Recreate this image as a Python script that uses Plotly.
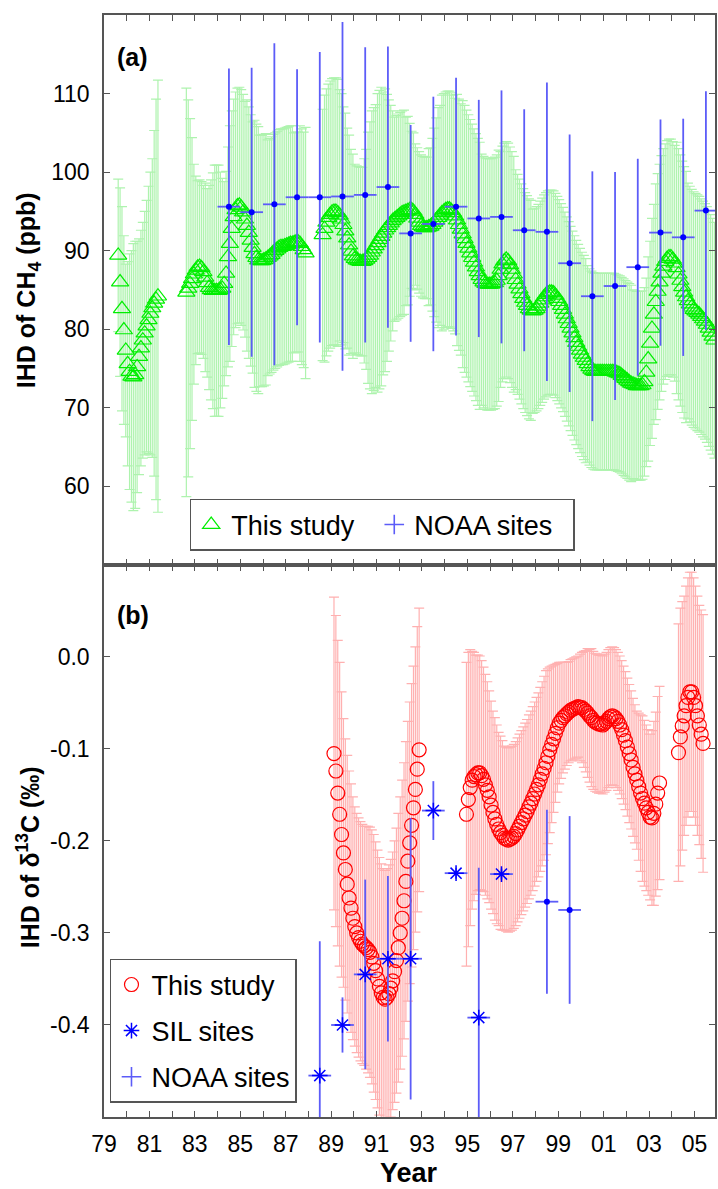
import numpy as np
import plotly.graph_objects as go

# ---------------- Panel (a): IHD of CH4 ----------------
# "This study" (monthly values, three segments)
ch4_seg1_start = 1979.625
ch4_seg1 = [89.4, 86.0, 82.6, 79.9, 77.3, 75.6, 74.6, 74.0, 73.9, 74.2, 75.2, 76.5,
            77.6, 78.6, 79.5, 80.4, 81.2, 82.0, 82.7, 83.3, 83.8, 84.2]
ch4_seg1_err = [9.7, 12.0, 13.0, 12.0, 11.0, 13.0, 15.0, 16.0, 17.0, 17.0, 16.0, 15.0,
                15.0, 15.0, 15.5, 16.0, 17.0, 18.0, 19.0, 22.0, 25.5, 27.5]

ch4_seg2_start = 1982.625
ch4_seg2 = [84.7, 85.2, 85.8, 86.4, 87.0, 87.5, 87.9, 88.0, 87.8, 87.3,
            86.6, 85.9, 85.3, 85.0, 84.9, 84.9, 84.9, 84.9, 85.0, 85.2,
            85.8, 87.1, 89.2, 90.9, 92.8, 94.3, 95.2, 95.7, 95.8, 95.5,
            94.9, 94.0, 93.2, 92.3, 91.3, 90.4, 89.6, 89.1, 88.8, 88.7,
            88.7, 88.8, 88.9, 89.1, 89.3, 89.5, 89.8, 90.0, 90.2, 90.4,
            90.5, 90.5, 90.6, 90.7, 90.8, 90.9, 90.9, 91.0, 91.1, 91.1,
            90.9, 90.5, 90.1, 89.7]
ch4_seg2_err = [26, 24, 21, 18, 14, 12, 11, 11, 11, 11,
                12, 12, 13, 14, 15, 16, 16, 16, 15, 14,
                13, 13, 14, 15, 15, 15, 15, 15, 15, 15,
                15, 15, 16, 16, 16, 16, 17, 17, 17, 16,
                16, 16, 16, 15, 15, 15, 15, 15, 15, 15,
                15, 15, 15, 15, 15, 15, 15, 14, 14, 14,
                15, 15, 15, 16]

ch4_seg3_start = 1988.625
ch4_seg3 = [92.0, 92.8, 93.6, 94.2, 94.6,
            94.9, 95.0, 95.0, 94.8, 94.5, 94.0, 93.3, 92.5, 91.6, 90.7, 89.9, 89.3,
            89.0, 88.8, 88.7, 88.6, 88.6, 88.7, 88.9, 89.1, 89.4, 89.8, 90.2, 90.6,
            91.0, 91.4, 91.8, 92.2, 92.6, 92.9, 93.2, 93.5, 93.8, 94.0, 94.2, 94.4,
            94.6, 94.8, 94.9, 95.0, 95.1, 95.2, 95.2, 95.0, 94.6, 94.1, 93.6, 93.2,
            93.0, 92.9, 92.9, 93.0, 93.1, 93.3, 93.6, 93.9, 94.2, 94.5, 94.8, 95.0,
            95.2, 95.3, 95.3, 95.1, 94.8, 94.4, 93.9, 93.3, 92.7, 92.1, 91.5, 90.9,
            90.3, 89.7, 89.1, 88.5, 87.9, 87.3, 86.8, 86.3, 86.0, 85.8, 85.7, 85.7,
            85.7, 85.8, 85.9, 86.2, 86.8, 87.6, 88.3, 88.7, 88.9, 88.7, 88.2, 87.6,
            87.0, 86.3, 85.7, 85.1, 84.5, 83.9, 83.4, 83.0, 82.6, 82.4, 82.3, 82.4,
            82.6, 82.9, 83.3, 83.7, 84.1, 84.4, 84.6, 84.7, 84.7, 84.6, 84.3, 83.9,
            83.5, 83.0, 82.5, 81.9, 81.3, 80.7, 80.1, 79.5, 78.9, 78.3, 77.8, 77.3,
            76.8, 76.4, 76.0, 75.6, 75.2, 74.9, 74.7, 74.6, 74.6, 74.6, 74.6, 74.6,
            74.6, 74.6, 74.6, 74.6, 74.6, 74.6, 74.5, 74.4, 74.3, 74.1, 73.9, 73.7,
            73.5, 73.3, 73.1, 73.0, 72.9, 72.8, 72.8, 72.8, 72.9, 73.3, 74.5, 76.2,
            78.2, 80.1, 81.9, 83.5, 84.8, 86.0, 87.1, 88.0, 88.6, 89.0, 89.2, 89.2,
            88.9, 88.4, 87.8, 87.0, 86.2, 85.4, 84.7, 84.1, 83.6, 83.2, 82.8, 82.5,
            82.3, 82.1, 81.9, 81.6, 81.3, 81.0, 80.6, 80.1, 79.6, 79.1, 78.6]
ch4_seg3_err = [16, 17, 17, 17, 17,
                17, 17, 17, 17, 16, 16, 15, 15, 14, 14, 13, 13,
                12, 12, 12, 12, 12, 13, 14, 16, 17, 18, 18, 18,
                19, 19, 19, 18, 18, 17, 16, 15, 14, 13, 13, 13,
                13, 13, 13, 12, 12, 11, 10, 10, 9, 9, 9, 9,
                9, 9, 9, 10, 10, 11, 12, 13, 14, 14, 15, 15,
                15, 15, 15, 15, 15, 15, 16, 16, 16, 17, 17, 17,
                17, 17, 17, 17, 17, 17, 17, 16, 16, 16, 16, 16,
                16, 16, 16, 16, 16, 15, 15, 15, 15, 15, 15, 15,
                15, 14, 14, 14, 14, 14, 14, 14, 14, 14, 13, 13,
                13, 13, 13, 13, 13, 13, 13, 13, 13, 13, 13, 13,
                13, 13, 13, 13, 13, 13, 13, 13, 13, 13, 13, 13,
                13, 13, 13, 12.5, 12.5, 12.5, 12.5, 12.5, 12.5, 12.5, 12.5, 12.5,
                12.5, 12.5, 12.5, 12.5, 12.5, 12.5, 12.5, 12.5, 12.5, 12.5, 12.5, 12.5,
                12.5, 12.5, 12.5, 12, 12, 12, 12, 12, 12, 12, 12, 13,
                13, 14, 14, 15, 15, 15, 15, 15, 15, 15, 15, 15,
                15, 15, 16, 16, 16, 16, 16, 16, 15, 15, 15, 15,
                15, 15, 15, 15, 15, 15, 15, 15, 15, 15, 15]

# NOAA sites (annual)
noaa_ch4_years = [1984.5, 1985.5, 1986.5, 1987.5, 1988.5, 1989.5, 1990.5, 1991.5,
                  1992.5, 1993.5, 1994.5, 1995.5, 1996.5, 1997.5, 1998.5, 1999.5,
                  2000.5, 2001.5, 2002.5, 2003.5, 2004.5, 2005.5]
noaa_ch4 = [95.6, 94.9, 95.9, 96.8, 96.8, 96.9, 97.1, 98.1, 92.2, 93.4, 95.6,
            94.1, 94.3, 92.6, 92.4, 88.4, 84.2, 85.5, 87.9, 92.3, 91.7, 95.1]
noaa_ch4_err = [17.6, 18.4, 20.5, 16.3, 18.5, 22.2, 18.8, 17.9, 13.8, 16.2, 16.4,
                15.1, 16.1, 15.4, 19.0, 16.4, 15.9, 14.5, 13.8, 14.4, 15.1, 15.2]

# ---------------- Panel (b): IHD of d13C ----------------
d13_segA_start = 1989.125
d13_segA = [-0.105, -0.124, -0.148, -0.171, -0.193, -0.213, -0.231, -0.247, -0.262, -0.273,
            -0.284, -0.293, -0.300, -0.305, -0.309, -0.312, -0.314, -0.316, -0.318, -0.321,
            -0.326, -0.333, -0.341, -0.350, -0.358, -0.365, -0.370, -0.372, -0.370, -0.366,
            -0.360, -0.352, -0.342, -0.330, -0.316, -0.300, -0.284, -0.265, -0.244, -0.222,
            -0.202, -0.183, -0.164, -0.144, -0.122, -0.101]
d13_segA_err = [0.170, 0.169, 0.166, 0.165, 0.155, 0.146, 0.142, 0.140, 0.138, 0.135,
                0.132, 0.130, 0.130, 0.130, 0.130, 0.130, 0.130, 0.132, 0.134, 0.136,
                0.138, 0.140, 0.140, 0.140, 0.140, 0.140, 0.140, 0.140, 0.140, 0.140,
                0.140, 0.140, 0.142, 0.144, 0.146, 0.148, 0.150, 0.150, 0.152, 0.152,
                0.153, 0.154, 0.154, 0.155, 0.155, 0.154]

d13_segB_start = 1994.958
d13_segB = [-0.171, -0.155, -0.142, -0.134, -0.130, -0.128, -0.126, -0.126, -0.129, -0.133,
            -0.139, -0.145, -0.152, -0.161, -0.169, -0.176, -0.182, -0.187, -0.191, -0.194,
            -0.197, -0.198, -0.199, -0.198, -0.197, -0.195, -0.192, -0.188, -0.184, -0.180,
            -0.176, -0.172, -0.168, -0.163, -0.159, -0.154, -0.149, -0.144, -0.139, -0.133,
            -0.127, -0.121, -0.115, -0.108, -0.101, -0.095, -0.089, -0.083, -0.077, -0.072,
            -0.069, -0.066, -0.064, -0.062, -0.060, -0.058, -0.057, -0.056, -0.055, -0.054,
            -0.055, -0.055, -0.057, -0.059, -0.061, -0.064, -0.066, -0.069, -0.071, -0.072,
            -0.073, -0.073, -0.074, -0.072, -0.070, -0.067, -0.065, -0.064, -0.065, -0.067,
            -0.070, -0.074, -0.079, -0.085, -0.091, -0.098, -0.105, -0.112, -0.120, -0.127,
            -0.134, -0.141, -0.148, -0.154, -0.159, -0.164, -0.169, -0.174, -0.175, -0.170,
            -0.160, -0.148, -0.137]
d13_segB_err = [0.165, 0.160, 0.150, 0.140, 0.135, 0.130, 0.128, 0.127,
                0.125, 0.122, 0.120, 0.118, 0.115, 0.113, 0.110, 0.110, 0.108, 0.105,
                0.105, 0.103, 0.100, 0.100, 0.100, 0.100, 0.100, 0.100, 0.100, 0.100, 0.100, 0.100, 0.100,
                0.100, 0.100, 0.100, 0.100, 0.100, 0.100, 0.100, 0.100, 0.100, 0.100, 0.100, 0.100,
                0.095, 0.090, 0.085, 0.080, 0.075, 0.070, 0.066, 0.063, 0.060, 0.058, 0.056, 0.055,
                0.055, 0.055, 0.055, 0.055, 0.055, 0.058, 0.060, 0.063, 0.066, 0.070, 0.072, 0.075,
                0.075, 0.075, 0.075, 0.075, 0.075, 0.075, 0.075, 0.075, 0.075, 0.075, 0.075, 0.075,
                0.075, 0.075, 0.075, 0.075, 0.075, 0.075, 0.075, 0.075, 0.075, 0.075, 0.075, 0.075,
                0.080, 0.085, 0.090, 0.090, 0.090, 0.090, 0.090, 0.095, 0.100, 0.100, 0.105, 0.105]

d13_segC_start = 2004.292
d13_segC = [-0.104, -0.087, -0.075, -0.064, -0.053, -0.044, -0.038, -0.038, -0.044, -0.053,
            -0.064, -0.074, -0.084, -0.094]
d13_segC_err = [0.140, 0.140, 0.135, 0.130, 0.130, 0.130, 0.130, 0.130, 0.130, 0.130,
                0.130, 0.130, 0.135, 0.140]

# SIL sites
sil_years = [1988.5, 1989.5, 1990.5, 1991.5, 1992.5, 1993.5, 1994.5, 1995.5, 1996.5]
sil_d13 = [-0.455, -0.400, -0.345, -0.328, -0.328, -0.167, -0.235, -0.392, -0.236]
sil_d13_err = [0.146, 0.030, 0.103, 0.090, 0.153, 0.032, 0.006, 0.163, 0.006]

# NOAA sites
noaa_d13_years = [1998.5, 1999.5]
noaa_d13 = [-0.266, -0.275]
noaa_d13_err = [0.100, 0.102]

# axis ticks
year_ticks = list(range(1979, 2006))
label_years = [y for y in year_ticks if (y - 1979) % 2 == 0]
year_labels = [f"{y % 100:02d}" for y in label_years]
ch4_ticks = [60, 70, 80, 90, 100, 110]
d13_ticks = [-0.4, -0.3, -0.2, -0.1, 0.0]
d13_labels = ["-0.4", "-0.3", "-0.2", "-0.1", "0.0"]


def monthly(start, n):
    return start + np.arange(n) / 12.0


for a, b in [(ch4_seg1, ch4_seg1_err), (ch4_seg2, ch4_seg2_err), (ch4_seg3, ch4_seg3_err),
             (d13_segA, d13_segA_err), (d13_segB, d13_segB_err), (d13_segC, d13_segC_err)]:
    assert len(a) == len(b), (len(a), len(b))

gx = np.concatenate([monthly(ch4_seg1_start, len(ch4_seg1)),
                     monthly(ch4_seg2_start, len(ch4_seg2)),
                     monthly(ch4_seg3_start, len(ch4_seg3))])
gy = np.concatenate([ch4_seg1, ch4_seg2, ch4_seg3])
ge = np.concatenate([ch4_seg1_err, ch4_seg2_err, ch4_seg3_err])

rx = np.concatenate([monthly(d13_segA_start, len(d13_segA)),
                     monthly(d13_segB_start, len(d13_segB)),
                     monthly(d13_segC_start, len(d13_segC))])
ry = np.concatenate([d13_segA, d13_segB, d13_segC])
re_ = np.concatenate([d13_segA_err, d13_segB_err, d13_segC_err])

FONT = "Liberation Sans, Arial, Helvetica, sans-serif"
GREEN = "#00ee00"
GREEN_BAR = "#aef3ae"
RED = "#ff0000"
RED_BAR = "#ffb0b0"
BLUE = "#0000ff"
BLUE_BAR = "#5c5cf8"
AXC = "#555555"
NB = "\u00a0"

fig = go.Figure()

fig.add_trace(go.Scatter(
    x=gx, y=gy, mode="markers", name="This study" + NB * 2, legend="legend",
    marker=dict(symbol="triangle-up-open", size=15, color=GREEN, line=dict(width=1.2, color=GREEN)),
    error_y=dict(type="data", array=ge, color=GREEN_BAR, thickness=1.2, width=5),
    xaxis="x", yaxis="y"))
fig.add_trace(go.Scatter(
    x=noaa_ch4_years, y=noaa_ch4, mode="markers", showlegend=False,
    marker=dict(symbol="circle", size=6, color=BLUE),
    error_y=dict(type="data", array=noaa_ch4_err, color=BLUE_BAR, thickness=1.8, width=0),
    error_x=dict(type="constant", value=0.5, color=BLUE_BAR, thickness=1.8, width=0),
    xaxis="x", yaxis="y"))
fig.add_trace(go.Scatter(
    x=[None], y=[None], mode="markers", name="NOAA sites" + NB * 2, legend="legend",
    marker=dict(symbol="cross-thin-open", size=14, color=BLUE_BAR, line=dict(width=1.6, color=BLUE_BAR)),
    xaxis="x", yaxis="y"))

fig.add_trace(go.Scatter(
    x=rx, y=ry, mode="markers", name="This study", legend="legend2", legendgroup="r",
    marker=dict(symbol="circle-open", size=14, color=RED, line=dict(width=1.2, color=RED)),
    error_y=dict(type="data", array=re_, color=RED_BAR, thickness=1.2, width=5),
    xaxis="x2", yaxis="y2"))
fig.add_trace(go.Scatter(
    x=sil_years, y=sil_d13, mode="markers", name="SIL sites", legend="legend2", legendgroup="s",
    marker=dict(symbol="asterisk-open", size=13, color=BLUE, line=dict(width=1.5, color=BLUE)),
    error_y=dict(type="data", array=sil_d13_err, color=BLUE_BAR, thickness=1.8, width=0),
    error_x=dict(type="constant", value=0.5, color=BLUE_BAR, thickness=1.8, width=0),
    xaxis="x2", yaxis="y2"))
fig.add_trace(go.Scatter(
    x=noaa_d13_years, y=noaa_d13, mode="markers", showlegend=False,
    marker=dict(symbol="circle", size=6, color=BLUE),
    error_y=dict(type="data", array=noaa_d13_err, color=BLUE_BAR, thickness=1.8, width=0),
    error_x=dict(type="constant", value=0.5, color=BLUE_BAR, thickness=1.8, width=0),
    xaxis="x2", yaxis="y2"))
fig.add_trace(go.Scatter(
    x=[None], y=[None], mode="markers", name="NOAA sites", legend="legend2", legendgroup="n",
    marker=dict(symbol="cross-thin-open", size=14, color=BLUE_BAR, line=dict(width=1.6, color=BLUE_BAR)),
    xaxis="x2", yaxis="y2"))

axis_common = dict(showline=True, linecolor=AXC, linewidth=1.5, mirror="ticks",
                   ticks="inside", ticklen=6, tickwidth=1.2, tickcolor=AXC,
                   showgrid=False, zeroline=False,
                   tickfont=dict(family=FONT, size=23, color="black"))

XR = [1979, 2005.9]
SPLIT = 0.501

fig.update_layout(
    width=718, height=1189,
    margin=dict(l=104, r=1, t=15, b=72),
    paper_bgcolor="white", plot_bgcolor="white",
    font=dict(family=FONT, color="black"),
    xaxis=dict(domain=[0, 1], anchor="y", range=XR, tickvals=year_ticks,
               showticklabels=False, **axis_common),
    yaxis=dict(domain=[SPLIT, 1], anchor="x", range=[50, 120], tickvals=ch4_ticks,
               ticklabelstandoff=8, **axis_common),
    xaxis2=dict(domain=[0, 1], anchor="y2", range=XR, tickvals=label_years,
                ticktext=year_labels, ticklabelstandoff=6,
                minor=dict(tickvals=year_ticks, ticks="inside", ticklen=6,
                           tickwidth=1.2, tickcolor=AXC, showgrid=False),
                **axis_common),
    yaxis2=dict(domain=[0, SPLIT], anchor="x2", range=[-0.5, 0.1], tickvals=d13_ticks,
                ticktext=d13_labels, ticklabelstandoff=8, **axis_common),
    legend=dict(orientation="h", x=0.1403, y=0.5608, xanchor="left", yanchor="top",
                bgcolor="white", bordercolor=AXC, borderwidth=1.5,
                font=dict(family=FONT, size=27, color="black")),
    legend2=dict(orientation="v", x=0.0098, y=0.1434, xanchor="left", yanchor="top",
                 bgcolor="white", bordercolor=AXC, borderwidth=1.5,
                 traceorder="grouped", tracegroupgap=8,
                 font=dict(family=FONT, size=27, color="black")),
    showlegend=True,
)

ann_font = dict(family=FONT, size=25, color="black")
fig.add_annotation(text="<b>IHD of CH<sub>4</sub> (ppb)</b>", xref="paper", yref="paper",
                   x=-0.124, y=0.7505, xanchor="center", yanchor="middle",
                   textangle=-90, showarrow=False, font=ann_font)
fig.add_annotation(text="<b>IHD of δ<sup>13</sup>C (‰)</b>", xref="paper", yref="paper",
                   x=-0.124, y=0.236, xanchor="center", yanchor="middle",
                   textangle=-90, showarrow=False, font=ann_font)
fig.add_annotation(text="<b>Year</b>", xref="paper", yref="paper",
                   x=0.499, y=-0.0652, xanchor="center", yanchor="bottom", borderpad=0,
                   showarrow=False, font=dict(family=FONT, size=27, color="black"))
fig.add_annotation(text="<b>(a)</b>", xref="paper", yref="paper",
                   x=0.018, y=0.962, xanchor="left", yanchor="middle",
                   showarrow=False, font=dict(family=FONT, size=25, color="black"))
fig.add_annotation(text="<b>(b)</b>", xref="paper", yref="paper",
                   x=0.018, y=0.4555, xanchor="left", yanchor="middle",
                   showarrow=False, font=dict(family=FONT, size=25, color="black"))

fig.write_html("out.html")
